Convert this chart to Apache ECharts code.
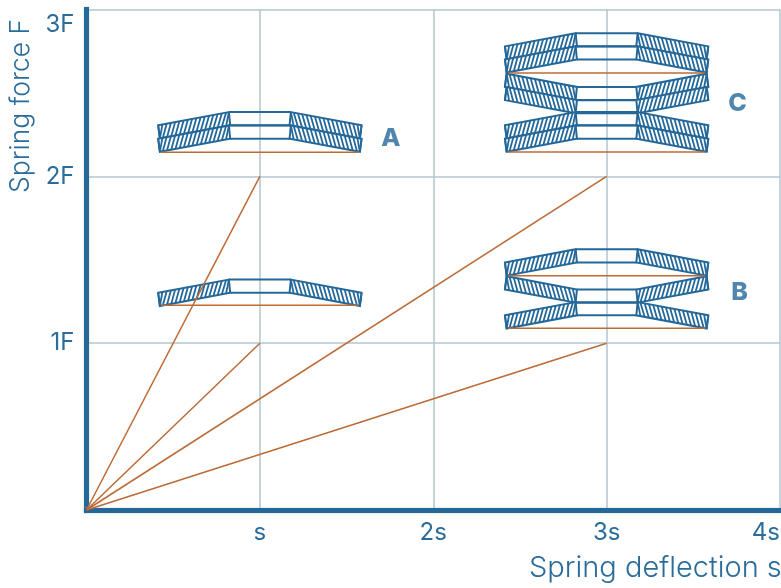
<!DOCTYPE html>
<html>
<head>
<meta charset="utf-8">
<title>Spring force</title>
<script src="https://cdn.jsdelivr.net/npm/echarts@6/dist/echarts.min.js"></script>
<style>
  html, body { margin: 0; padding: 0; background: #fff; }
  #chart { width: 781px; height: 588px; }
</style>
</head>
<body>
<div id="chart"></div>
<script>
// axis labels, index = tick value
const xTicks = ['', 's', '2s', '3s', '4s'];
const yTicks = ['', '1F', '2F', '3F'];

// characteristic lines from the origin: [deflection, force]
const rays = [[1, 2], [1, 1], [3, 2], [3, 1]];

// discs: [x, y of top edge, direction] direction 1 = cone up, -1 = cone down
const discsA = [[1, 2.385, 1], [1, 2.305, 1], [1, 1.381, 1]];
const discsB = [[3, 1.563, 1], [3, 1.401, -1], [3, 1.246, 1]];
const discsC = [[3, 2.858, 1], [3, 2.780, 1], [3, 2.615, -1], [3, 2.536, -1], [3, 2.385, 1], [3, 2.305, 1]];

// seat lines under the stacks: [x from, x to, force]
const seats = [
  [0.432, 1.568, 2.144], [0.432, 1.568, 1.228],
  [2.432, 3.568, 1.404], [2.432, 3.568, 1.090],
  [2.432, 3.568, 2.619], [2.432, 3.568, 2.146]
];

// stack letters: [x, y, letter]
const stackLabels = [[1.755, 2.228, 'A'], [3.767, 1.305, 'B'], [3.755, 2.437, 'C']];

const BLUE = '#24689a';
const TEXT = '#2a6c9b';
const GRID = '#b3c4cf';
const ORANGE = '#bd6a35';
const FONT = 'Inter';

function renderDisc(params, api) {
  const p = api.coord([api.value(0), api.value(1)]);
  const cx = p[0], top = p[1], dir = api.value(2);
  const H = 13.2;
  const y = v => (dir > 0 ? top + v : top + 2 * H - v);
  const children = [];
  const stroke = { stroke: BLUE, lineWidth: 2, fill: 'none' };

  [-1, 1].forEach(s => {
    const oTop = [cx + s * 101.7, y(H)], iTop = [cx + s * 31, y(0)];
    const iBot = [cx + s * 29.7, y(H)], oBot = [cx + s * 100, y(2 * H)];
    children.push({
      type: 'polygon',
      shape: { points: [oTop, iTop, iBot, oBot] },
      style: { fill: '#fff', stroke: BLUE, lineWidth: 2 }
    });
    const len = 70, lean = 5.5, step = 4.2;
    const clamp = v => Math.max(0, Math.min(len, v));
    for (let u = -lean; u < len; u += step) {
      const a = clamp(u) / len, b = clamp(u + lean) / len;
      children.push({
        type: 'line',
        shape: {
          x1: oBot[0] + (iBot[0] - oBot[0]) * a, y1: oBot[1] + (iBot[1] - oBot[1]) * a,
          x2: oTop[0] + (iTop[0] - oTop[0]) * b, y2: oTop[1] + (iTop[1] - oTop[1]) * b
        },
        style: { stroke: BLUE, lineWidth: 1.8 }
      });
    }
  });
  children.push({ type: 'line', shape: { x1: cx - 31, y1: y(0), x2: cx + 31, y2: y(0) }, style: stroke });
  children.push({ type: 'line', shape: { x1: cx - 29.7, y1: y(H), x2: cx + 29.7, y2: y(H) }, style: stroke });
  return { type: 'group', children };
}

const series = [];
[discsA, discsB, discsC].forEach(discs => {
  series.push({
    type: 'custom',
    renderItem: renderDisc,
    data: discs,
    encode: { x: 0, y: 1 },
    z: 3,
    silent: true
  });
});
rays.forEach(r => {
  series.push({
    type: 'line',
    data: [[0, 0], r],
    symbol: 'none',
    lineStyle: { color: ORANGE, width: 1.5 },
    z: 4,
    silent: true
  });
});
seats.forEach(s => {
  series.push({
    type: 'line',
    data: [[s[0], s[2]], [s[1], s[2]]],
    symbol: 'none',
    lineStyle: { color: ORANGE, width: 1.5 },
    z: 4,
    silent: true
  });
});
series.push({
  type: 'scatter',
  data: stackLabels,
  symbolSize: 0,
  label: {
    show: true,
    position: 'inside',
    formatter: p => p.data[2],
    color: BLUE,
    fontFamily: FONT,
    fontWeight: 800,
    fontSize: 25
  },
  z: 5,
  silent: true
});

const axisLine = {
  show: true,
  lineStyle: { color: BLUE, width: 5, cap: 'square', shadowColor: GRID, shadowBlur: 2 }
};

const chart = echarts.init(document.getElementById('chart'));
chart.setOption({
  animation: false,
  grid: { left: 86.5, right: 1, top: 9.5, bottom: 78, containLabel: false, outerBoundsMode: 'none' },
  xAxis: {
    type: 'value',
    min: 0,
    max: 4,
    interval: 1,
    axisLine,
    axisTick: { show: false },
    splitLine: { show: true, lineStyle: { color: GRID, width: 1.5 } },
    axisLabel: {
      color: TEXT,
      fontFamily: FONT,
      fontWeight: 400,
      fontSize: 24,
      margin: 11,
      alignMaxLabel: 'right',
      formatter: v => xTicks[v]
    }
  },
  yAxis: {
    type: 'value',
    min: 0,
    max: 3,
    interval: 1,
    axisLine,
    axisTick: { show: false },
    splitLine: { show: true, lineStyle: { color: GRID, width: 1.5 } },
    axisLabel: {
      color: TEXT,
      fontFamily: FONT,
      fontWeight: 400,
      fontSize: 24,
      lineHeight: 30,
      margin: 12,
      verticalAlignMaxLabel: 'top',
      formatter: v => yTicks[v]
    }
  },
  graphic: [
    {
      type: 'text',
      left: 529,
      top: 554,
      style: { text: 'Spring deflection s', fill: TEXT, font: '300 29px ' + FONT }
    },
    {
      type: 'text',
      x: 8,
      y: 193,
      rotation: Math.PI / 2,
      style: { text: 'Spring force F', fill: TEXT, font: '300 26.5px ' + FONT }
    }
  ],
  series
});
window.addEventListener('resize', () => chart.resize());
</script>
</body>
</html>
